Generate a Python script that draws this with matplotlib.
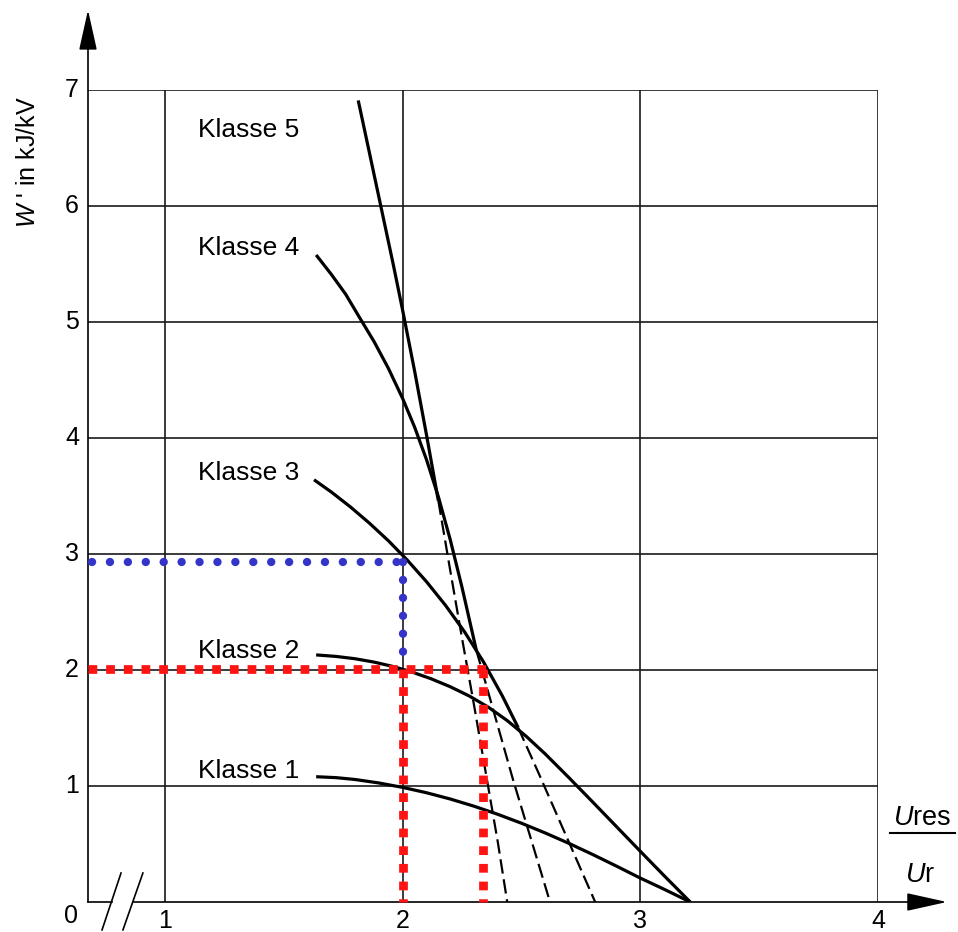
import matplotlib.pyplot as plt

plt.rcParams['font.family'] = ['Liberation Sans', 'DejaVu Sans']
plt.rcParams['mathtext.fontset'] = 'custom'
plt.rcParams['mathtext.it'] = 'Liberation Sans:italic'
plt.rcParams['mathtext.rm'] = 'Liberation Sans'

# readings: x = Ures/Ur, y = W' in kJ/kV
k1_u = [1.636, 1.72, 1.80, 1.90, 2.0, 2.1, 2.2, 2.3, 2.4, 2.5, 2.6, 2.7, 2.8, 2.9, 3.0, 3.1, 3.21]
k1_w = [1.08, 1.072, 1.056, 1.026, 0.988, 0.942, 0.888, 0.826, 0.756, 0.679, 0.595, 0.505,
        0.409, 0.309, 0.206, 0.11, 0.0]

k2_u = [1.636, 1.72, 1.80, 1.88, 1.96, 2.04, 2.12, 2.20, 2.28, 2.36, 2.44, 2.52, 2.60,
        2.70, 2.80, 2.90, 3.00, 3.10, 3.21]
k2_w = [2.13, 2.117, 2.097, 2.068, 2.03, 1.982, 1.924, 1.856, 1.776, 1.68, 1.564, 1.428,
        1.276, 1.071, 0.861, 0.649, 0.437, 0.227, 0.0]

k3_u = [1.627, 1.70, 1.78, 1.86, 1.94, 2.02, 2.10, 2.18, 2.26, 2.34, 2.42, 2.486]
k3_w = [3.64, 3.534, 3.406, 3.266, 3.114, 2.946, 2.762, 2.558, 2.33, 2.07, 1.774, 1.503]
k3_dash_u = [2.486, 2.57, 2.69, 2.81]
k3_dash_w = [1.503, 1.12, 0.56, 0.0]

k4_u = [1.636, 1.70, 1.76, 1.821, 1.88, 1.94, 2.0, 2.05, 2.10, 2.15, 2.20, 2.25, 2.31]
k4_w = [5.578, 5.41, 5.24, 5.03, 4.83, 4.60, 4.34, 4.095, 3.815, 3.495, 3.125, 2.71, 2.17]
k4_dash_u = [2.31, 2.465, 2.62]
k4_dash_w = [2.17, 1.05, 0.0]

k5_u = [1.813, 1.86, 1.91, 1.96, 2.0, 2.05, 2.10, 2.15]
k5_w = [6.91, 6.46, 5.98, 5.50, 5.10, 4.58, 4.03, 3.46]
k5_dash_u = [2.15, 2.20, 2.25, 2.30, 2.35, 2.40, 2.44]
k5_dash_w = [3.46, 2.86, 2.27, 1.70, 1.11, 0.52, 0.0]

labels = ['Klasse 1', 'Klasse 2', 'Klasse 3', 'Klasse 4', 'Klasse 5']
label_w = [1.069, 2.103, 3.638, 5.578, 6.595]

# the two worked examples
red_w = 2.01
red_u = [2.0, 2.34]
blue_w = 2.93
blue_u = 2.0
blue_stop = 2.15

u0 = 0.676  # left edge of the grid (axis break)

fig = plt.figure(figsize=(9.58, 9.32), dpi=100)
ax = fig.add_axes([88 / 958, 30 / 932, 790 / 958, 812 / 932])
ax.set_xlim(u0, 4)
ax.set_ylim(0, 7)
ax.set_xticks([1, 2, 3, 4])
ax.set_yticks(range(1, 8))
ax.tick_params(length=0, labelleft=False, labelbottom=False)
ax.grid(True, color='#1a1a1a', lw=1.2)
for s in ax.spines.values():
    s.set_visible(False)

solid = dict(color='black', lw=2.3, solid_capstyle='butt', solid_joinstyle='round', zorder=3)
dashed = dict(color='black', lw=1.6, linestyle=(0, (6.5, 2.6)), zorder=3)

ax.plot(k1_u, k1_w, **solid)
ax.plot(k2_u, k2_w, **solid)
ax.plot(k3_u, k3_w, **solid)
ax.plot(k3_dash_u, k3_dash_w, **dashed)
ax.plot(k4_u, k4_w, **solid)
ax.plot(k4_dash_u, k4_dash_w, **dashed)
ax.plot(k5_u, k5_w, **solid)
ax.plot(k5_dash_u, k5_dash_w, **dashed)

for name, w in zip(labels, label_w):
    ax.text(1.139, w, name, fontsize=19, ha='left', va='baseline')

# red squares
red = dict(color='#ff1414', lw=6.3, linestyle=(0, (1, 1.02)),
           dash_capstyle='butt', zorder=5, clip_on=False)
ax.plot([u0, red_u[1] + 0.01], [red_w, red_w], **red)
for u in red_u:
    ax.plot([u, u], [red_w, 0], **red)

# blue dots
blue = dict(color='#3434c8', lw=6.0, linestyle=(0, (0.01, 2.14)),
            dash_capstyle='round', zorder=5, clip_on=False)
ax.plot([u0 + 0.017, blue_u], [blue_w, blue_w], **blue)
ax.plot([blue_u, blue_u], [blue_w, blue_stop], **blue)

# axes with arrows and break
arrow = dict(arrowstyle='-|>,head_length=1.26,head_width=0.28', color='black',
             lw=1.2, shrinkA=0, shrinkB=0, mutation_scale=20)
ax.annotate('', xy=(u0, 7.69), xytext=(u0, 0), arrowprops=arrow,
            annotation_clip=False)
ax.annotate('', xy=(4.29, 0), xytext=(0.867, 0), arrowprops=arrow,
            annotation_clip=False)
ax.plot([u0, 0.776], [0, 0], color='black', lw=1.2, clip_on=False)
ax.plot([0.735, 0.815], [-0.241, 0.25], color='black', lw=1.2, clip_on=False)
ax.plot([0.823, 0.907], [-0.241, 0.25], color='black', lw=1.2, clip_on=False)

# tick labels
for i in range(1, 5):
    ax.text(i, -0.164, str(i), fontsize=18, ha='center', va='center')
for i in range(1, 8):
    ax.text(0.609, i, str(i), fontsize=18, ha='center', va='center')
ax.text(0.6045, -0.121, '0', fontsize=18, ha='center', va='center')

# axis titles
ax.text(0.4236, 6.38, r"$W$ ' in kJ/kV", fontsize=18, rotation=90,
        ha='center', va='center')
ax.text(4.185, 0.66, r'$U$res', fontsize=19.5, ha='center', va='baseline')
ax.plot([4.05, 4.324], [0.595, 0.595], color='black', lw=1.5, clip_on=False)
ax.text(4.177, 0.172, r'$U$r', fontsize=19.5, ha='center', va='baseline')

fig.savefig('out.png', dpi=100)
